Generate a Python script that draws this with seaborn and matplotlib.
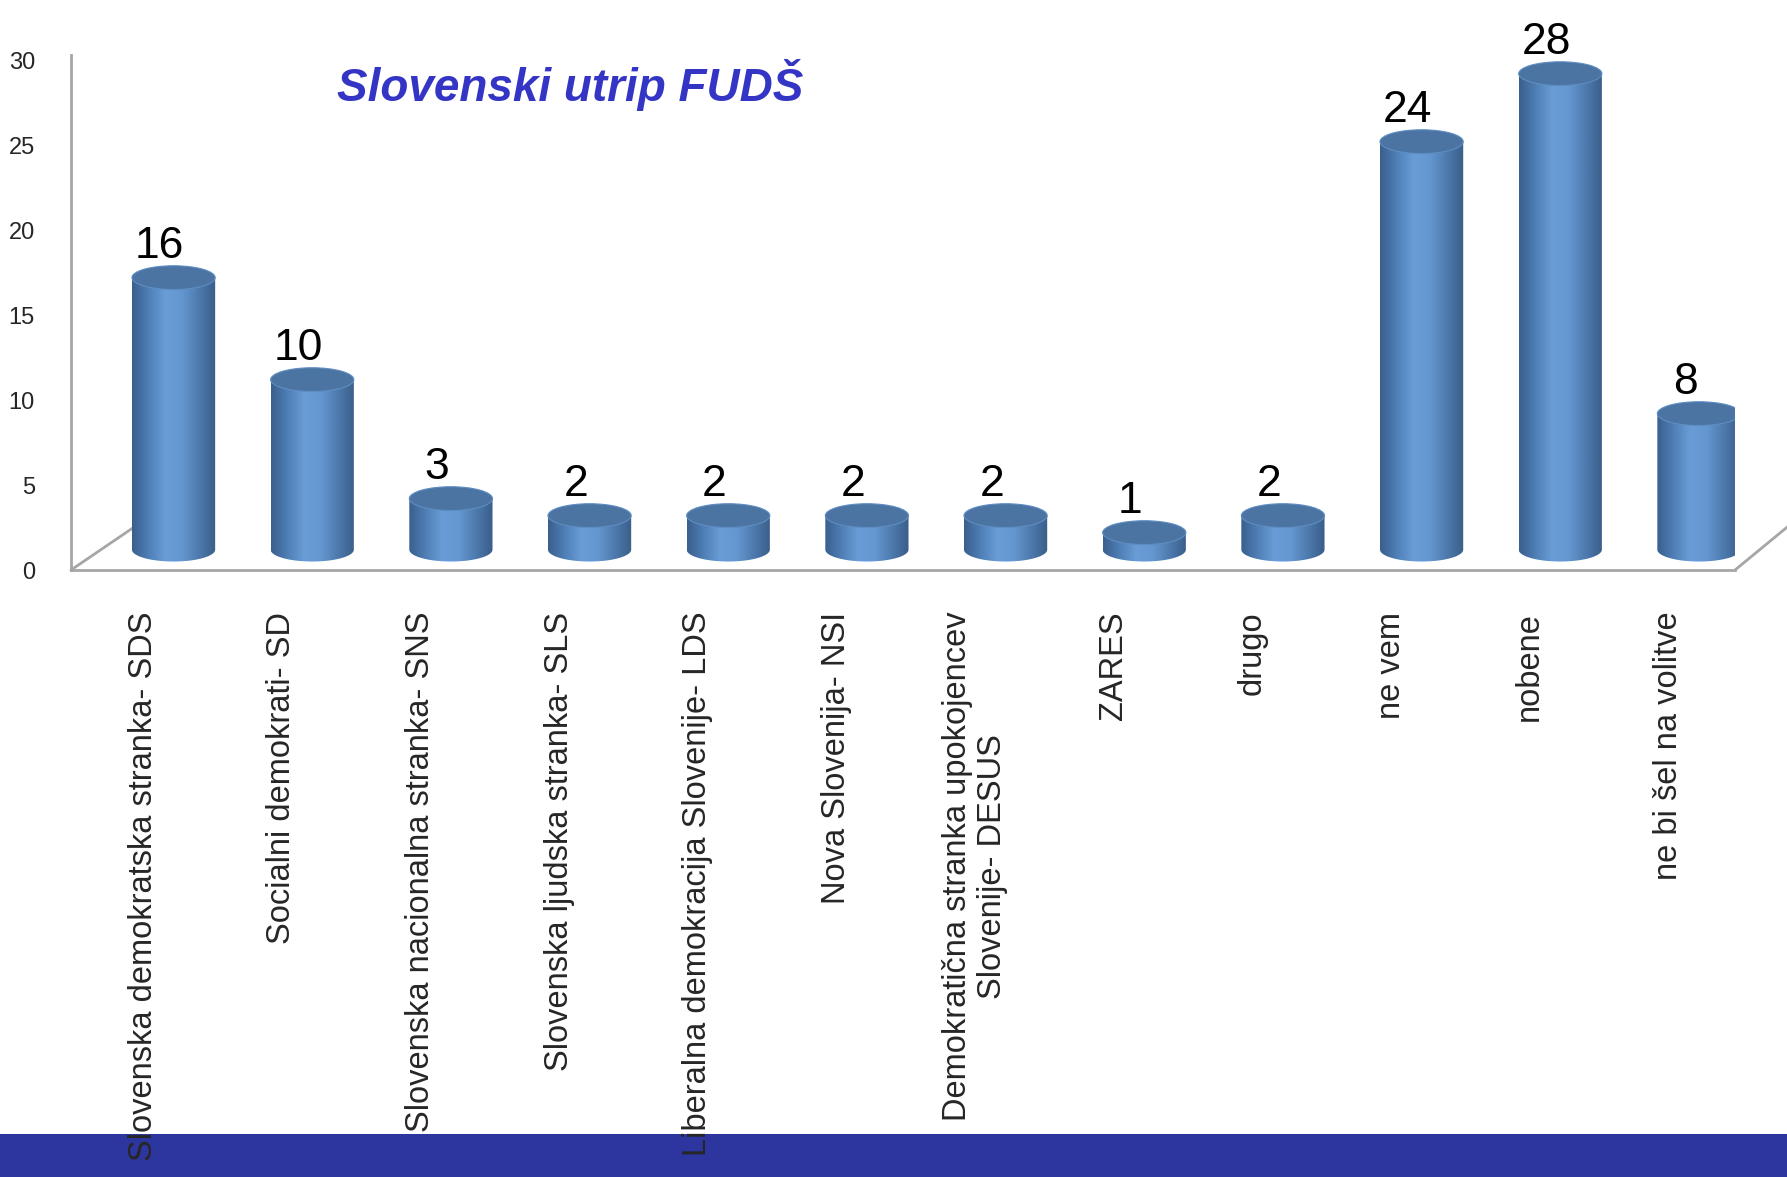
import numpy as np
import pandas as pd
import seaborn as sns
import matplotlib.pyplot as plt
from matplotlib.colors import LinearSegmentedColormap
from matplotlib.patches import Ellipse, PathPatch, Rectangle
from matplotlib.path import Path

categories = [
    "Slovenska demokratska stranka- SDS",
    "Socialni demokrati- SD",
    "Slovenska nacionalna stranka- SNS",
    "Slovenska ljudska stranka- SLS",
    "Liberalna demokracija Slovenije- LDS",
    "Nova Slovenija- NSI",
    "Demokratična stranka upokojencev\nSlovenije- DESUS",
    "ZARES",
    "drugo",
    "ne vem",
    "nobene",
    "ne bi šel na volitve",
]
values = [16, 10, 3, 2, 2, 2, 2, 1, 2, 24, 28, 8]
yticks = [0, 5, 10, 15, 20, 25, 30]
title = "Slovenski utrip FUDŠ"

df = pd.DataFrame({"stranka": categories, "odstotek": values})

sns.set_style("white")
plt.rcParams["font.family"] = ["Liberation Sans", "DejaVu Sans"]

fig = plt.figure(figsize=(17.87, 11.77), dpi=100)
ax = fig.add_axes([0.0397, 0.5157, 0.9312, 0.4376])
ax.set_facecolor("none")

# blue band at the bottom of the slide
fig.patches.append(Rectangle((0, 0), 1, 43 / 1177, transform=fig.transFigure,
                             facecolor="#2D369E", edgecolor="none", zorder=-5))

sns.barplot(data=df, x="stranka", y="odstotek", color="#5B8FCC", width=0.6, ax=ax)

# cylinder look: gradient body, rounded bottom, darker top ellipse
cyl = LinearSegmentedColormap.from_list(
    "cyl", ["#3A5F8C", "#4F7FB6", "#6A9DD7", "#6496D0", "#4D7AAD", "#3A5E88"])
grad = np.linspace(0, 1, 256).reshape(1, -1)
base = 1.2
eh = 0.7
for p in ax.patches:
    x0, w, h = p.get_x(), p.get_width(), p.get_height()
    p.set_visible(False)
    xc = x0 + w / 2
    top = base + h
    th = np.linspace(np.pi, 2 * np.pi, 60)
    verts = [(x0, top)] + list(zip(xc + w / 2 * np.cos(th), base + eh * np.sin(th))) + [(x0 + w, top), (x0, top)]
    codes = [Path.MOVETO] + [Path.LINETO] * (len(verts) - 2) + [Path.CLOSEPOLY]
    clip = PathPatch(Path(verts, codes), transform=ax.transData)
    im = ax.imshow(grad, cmap=cyl, extent=[x0, x0 + w, base - eh, top],
                   aspect="auto", zorder=2, interpolation="bicubic")
    im.set_clip_path(clip)
    ax.add_patch(Ellipse((xc, top), w, 2 * eh, facecolor="#4B74A3",
                         edgecolor="#5E8DC2", lw=0.8, zorder=3))

for i, v in enumerate(values):
    ax.text(i - 0.1, base + v + eh - 0.1, str(v), ha="center", va="bottom",
            fontsize=32, color="black", zorder=4)

# floor of the 3D frame
gray = "#A6A6A6"
ax.plot([-0.74, -0.28], [0, 2.55], color=gray, lw=2, zorder=1, clip_on=False)
ax.plot([11.26, 11.64], [0, 2.55], color=gray, lw=2, zorder=1, clip_on=False)

ax.set_xlim(-0.74, 11.26)
ax.set_ylim(0, 30.3)
ax.set_xticks(np.arange(len(categories)) - 0.22, categories)
ax.set_yticks(yticks)
ax.tick_params(axis="x", length=0, pad=30, labelsize=23.5, labelrotation=90)
ax.tick_params(axis="y", length=0, pad=26, labelsize=17)
for lab in ax.get_xticklabels():
    lab.set_multialignment("center")
ax.set_xlabel("")
ax.set_ylabel("")
for s in ["top", "right"]:
    ax.spines[s].set_visible(False)
for s in ["left", "bottom"]:
    ax.spines[s].set_color(gray)
    ax.spines[s].set_linewidth(2)

fig.text(570 / 1787, 1 - 85 / 1177, title, ha="center", va="center",
         fontsize=33, fontweight="bold", fontstyle="italic", color="#3535C5")

plt.savefig("out.png", dpi=100)
